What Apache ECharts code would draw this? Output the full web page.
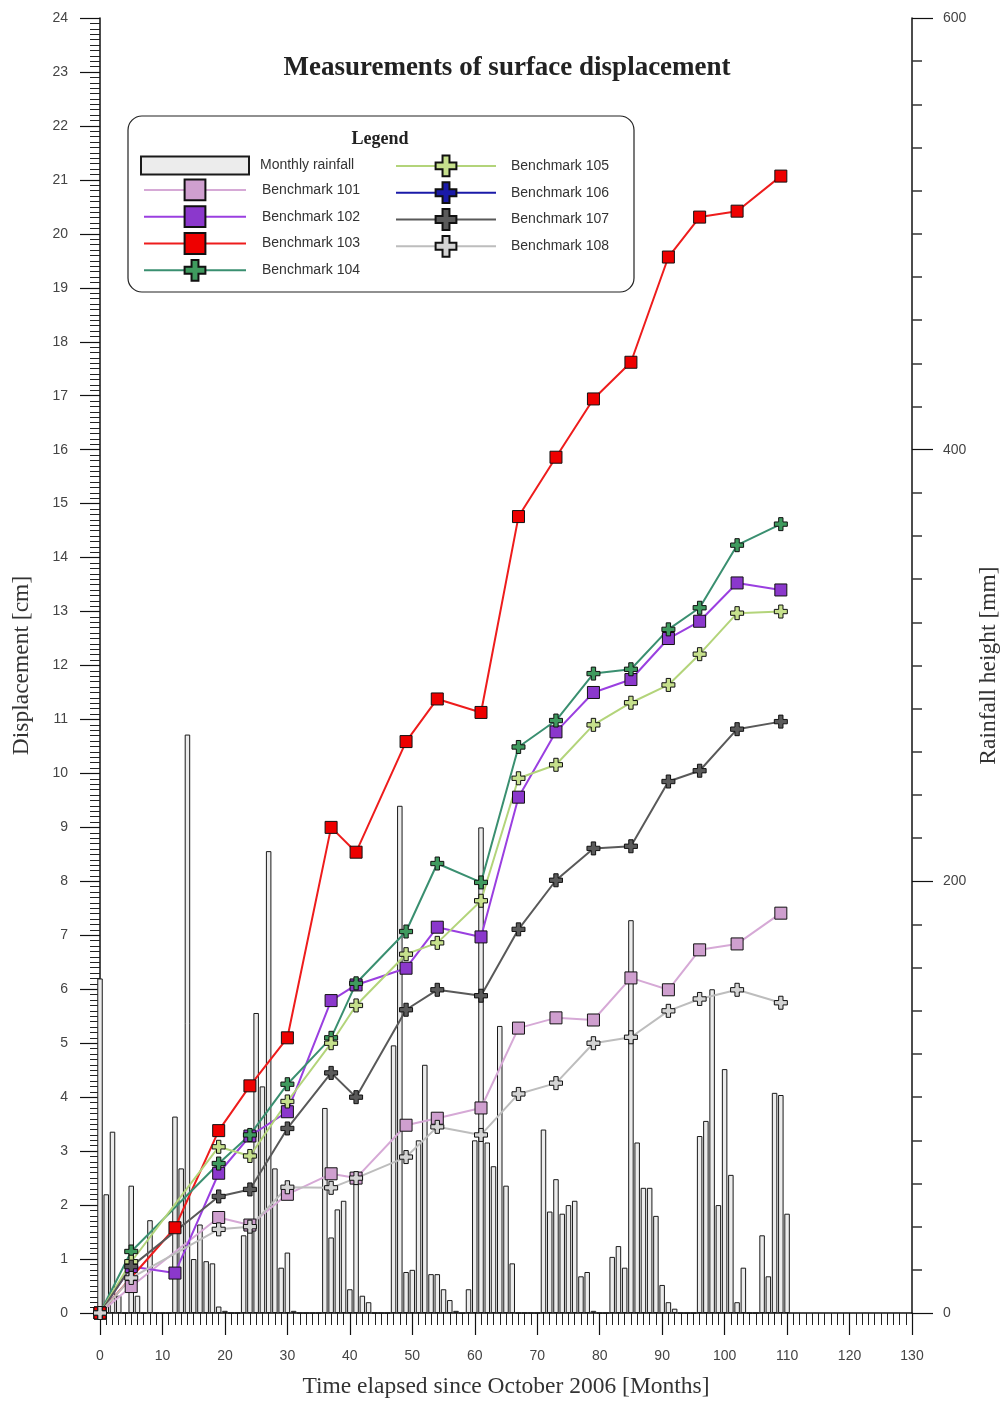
<!DOCTYPE html>
<html><head><meta charset="utf-8">
<script src="https://cdn.jsdelivr.net/npm/echarts@6/dist/echarts.min.js"></script>
<style>html,body{margin:0;padding:0;background:#fff}#c{width:1002px;height:1403px}</style>
</head><body><div id="c"></div>
<script>
// ---------- DATA ----------
const titleText = 'Measurements of surface displacement';
const xName = 'Time elapsed since October 2006 [Months]';
const yName = 'Displacement [cm]';
const y2Name = 'Rainfall height [mm]';

// monthly rainfall [mm], month 0 .. 110
const rainfall = [155,55,84,8,0,59,8,0,43,0, 0,0,91,67,268,25,41,24,23,3,
  1,0,0,36,42,139,105,214,67,21, 28,1,0,0,0,0,95,35,48,52,
  11,65,8,5,0,0,0,124,235,19, 20,80,115,18,18,11,6,1,0,11,
  80,225,79,68,133,59,23,0,0,0, 0,85,47,62,46,50,52,17,19,1,
  0,0,26,31,21,182,79,58,58,45, 13,5,2,0,0,0,82,89,150,50,
  113,64,5,21,0,0,36,17,102,101, 46];

// survey epochs [months]
const monthsMain = [0,5,19,24,30,37,41,49,54,61,67,73,79,85,91,96,102,109];
const months102 = [0,5,12,19,24,30,37,41,49,54,61,67,73,79,85,91,96,102,109];
const months103 = [0,12,19,24,30,37,41,49,54,61,67,73,79,85,91,96,102,109];

// displacement [cm]
const bm101 = [0,0.49,1.77,1.63,2.2,2.58,2.5,3.48,3.61,3.80,5.28,5.47,5.43,6.21,5.99,6.73,6.84,7.41];
const bm102 = [0,0.86,0.74,2.59,3.28,3.73,5.79,6.08,6.39,7.15,6.97,9.56,10.77,11.50,11.74,12.50,12.82,13.53,13.40];
const bm103 = [0,1.58,3.38,4.21,5.10,9.0,8.54,10.59,11.38,11.13,14.76,15.86,16.94,17.62,19.57,20.31,20.42,21.07];
const bm104 = [0,1.14,2.77,3.30,4.24,5.10,6.11,7.07,8.33,7.98,10.49,10.98,11.85,11.93,12.67,13.07,14.23,14.62];
const bm105 = [0,0.95,3.08,2.91,3.92,5.0,5.70,6.65,6.86,7.64,9.91,10.16,10.90,11.31,11.64,12.21,12.97,13.0];
const bm106 = [];
const bm107 = [0,0.86,2.16,2.29,3.42,4.45,4.0,5.62,5.99,5.88,7.11,8.02,8.61,8.65,9.85,10.05,10.82,10.96];
const bm108 = [0,0.65,1.55,1.6,2.33,2.32,2.50,2.89,3.45,3.30,4.06,4.26,5.0,5.11,5.60,5.82,5.99,5.75];

// ---------- CHART ----------
const CROSS = 'path://M1,0H2V1H3V2H2V3H1V2H0V1H1Z';
const pair = (xs, ys) => ys.map((v, i) => [xs[i], v]);
const lab = {color:'#444', fontFamily:'Liberation Sans', fontSize:14};

function lineSeries(name, xs, ys, line, fill, symbol, size) {
  return {
    name, type:'line', yAxisIndex:0, data: pair(xs, ys),
    symbol, symbolSize: size, showAllSymbol: true,
    lineStyle:{color: line, width: 2},
    itemStyle:{color: fill, borderColor:'#111', borderWidth:1},
    emphasis:{disabled:true}
  };
}

const series = [
  {name:'Monthly rainfall', type:'bar', yAxisIndex:1, barWidth:5.5,
   data: rainfall.map((v,i)=>[i,v]),
   itemStyle:{color:'#ececec', borderColor:'#1a1a1a', borderWidth:1},
   emphasis:{disabled:true}},
  lineSeries('Benchmark 101', monthsMain, bm101, '#d6a9d6', '#cf9fcf', 'rect', 12),
  lineSeries('Benchmark 102', months102, bm102, '#9a3fe0', '#8b38cc', 'rect', 12),
  lineSeries('Benchmark 103', months103, bm103, '#ee1c1c', '#ee0000', 'rect', 12),
  lineSeries('Benchmark 104', monthsMain, bm104, '#3a8f70', '#3f9a5e', CROSS, 13),
  lineSeries('Benchmark 105', monthsMain, bm105, '#b3d47a', '#c6e08c', CROSS, 13),
  lineSeries('Benchmark 106', [], bm106, '#1a1aa8', '#1a1aa8', CROSS, 13),
  lineSeries('Benchmark 107', monthsMain, bm107, '#595959', '#5a5a5a', CROSS, 13),
  lineSeries('Benchmark 108', monthsMain, bm108, '#bdbdbd', '#d4d4d4', CROSS, 13)
];

const legendText = {color:'#333', fontFamily:'Liberation Sans', fontSize:14};
const nameFont = {fontFamily:'Liberation Serif', fontSize:23.5, color:'#333'};
const option = {
  animation:false,
  backgroundColor:'#fff',
  title:{text:titleText, left:502, top:50, textAlign:'center',
    textStyle:{fontFamily:'Liberation Serif', fontWeight:'bold', fontSize:27, color:'#222'}},
  grid:{left:100, right:90, top:18, bottom:90, outerBoundsMode:'none', containLabel:false},
  graphic:[
    {type:'rect', z:0, shape:{x:128,y:116,width:506,height:176,r:14},
     style:{fill:'#fff', stroke:'#222', lineWidth:1.2}},
    {type:'text', z:1, x:380, y:139, style:{text:'Legend', fill:'#222', align:'center', verticalAlign:'middle',
     font:'bold 18px "Liberation Serif"'}}
  ],
  legend:[
    {data:['Monthly rainfall'], left:140, top:155.5, padding:0, itemWidth:108, itemHeight:18, icon:'rect',
     selectedMode:false, textStyle:Object.assign({padding:[0,0,0,6]}, legendText)},
    {data:['Benchmark 101','Benchmark 102','Benchmark 103','Benchmark 104'], orient:'vertical',
     left:143, top:178.5, padding:0, itemWidth:102, itemHeight:26, itemGap:4, selectedMode:false,
     lineStyle:{width:2},
     textStyle:Object.assign({padding:[0,0,0,11]}, legendText)},
    {data:['Benchmark 105','Benchmark 106','Benchmark 107','Benchmark 108'], orient:'vertical',
     left:395, top:154.5, padding:0, itemWidth:100, itemHeight:26, itemGap:4, selectedMode:false,
     lineStyle:{width:2},
     textStyle:Object.assign({padding:[0,0,0,10]}, legendText)}
  ],
  xAxis:{type:'value', min:0, max:130, interval:10,
    name:xName, nameLocation:'middle', nameGap:62, nameTextStyle:nameFont, nameMoveOverlap:false,
    axisLine:{lineStyle:{color:'#111', width:1.5}},
    axisTick:{length:22, lineStyle:{color:'#111', width:1.2}},
    minorTick:{show:true, splitNumber:10, length:12, lineStyle:{color:'#222', width:1}},
    axisLabel:Object.assign({margin:36}, lab),
    splitLine:{show:false}},
  yAxis:[
    {type:'value', min:0, max:24, interval:1, position:'left',
     name:yName, nameLocation:'middle', nameGap:66, nameRotate:90, nameTextStyle:nameFont,
     axisLine:{show:true, lineStyle:{color:'#111', width:1.5}},
     axisTick:{show:true, length:20, lineStyle:{color:'#111', width:1.2}},
     minorTick:{show:true, splitNumber:10, length:10, lineStyle:{color:'#222', width:1}},
     axisLabel:Object.assign({margin:32}, lab),
     splitLine:{show:false}},
    {type:'value', min:0, max:600, interval:200, position:'right',
     name:y2Name, nameLocation:'middle', nameGap:63, nameRotate:90, nameTextStyle:nameFont,
     axisLine:{show:true, lineStyle:{color:'#111', width:1.5}},
     axisTick:{show:true, length:21, lineStyle:{color:'#111', width:1.2}},
     minorTick:{show:true, splitNumber:10, length:10, lineStyle:{color:'#333', width:1.5}},
     axisLabel:Object.assign({margin:31}, lab),
     splitLine:{show:false}}
  ],
  series
};
const chart = echarts.init(document.getElementById('c'), null, {renderer:'canvas'});
chart.setOption(option);
</script></body></html>
